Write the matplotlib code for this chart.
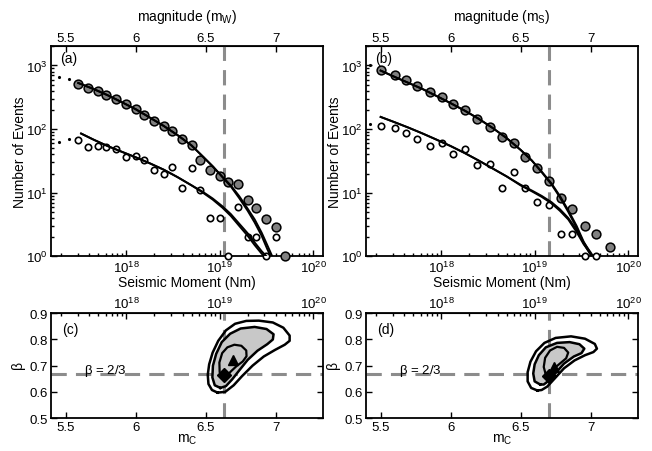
import numpy as np
import matplotlib
matplotlib.use("Agg")
import matplotlib.pyplot as plt
from matplotlib.ticker import FixedLocator, NullFormatter

plt.rcParams['font.family'] = ['Liberation Sans', 'DejaVu Sans']
plt.rcParams['font.size'] = 10
plt.rcParams['xtick.labelsize'] = 9.5
plt.rcParams['ytick.labelsize'] = 9.5
plt.rcParams['mathtext.fontset'] = 'custom'
plt.rcParams['mathtext.rm'] = 'Liberation Sans'
plt.rcParams['mathtext.it'] = 'Liberation Sans:italic'
plt.rcParams['mathtext.bf'] = 'Liberation Sans:bold'
plt.rcParams['mathtext.default'] = 'regular'

# ---------------- data ----------------
# panel (a): magnitude bins (mW) and counts
mag_a = [5.59, 5.66, 5.73, 5.79, 5.86, 5.93, 6.00, 6.06, 6.13, 6.20, 6.26, 6.33,
         6.40, 6.46, 6.53, 6.60, 6.66, 6.73, 6.80, 6.86, 6.93, 7.00, 7.07]
filled_a = [518, 448, 397, 340, 294, 246, 205, 167, 136, 113, 94, 69,
            56, 33, 23, 18.6, 14.7, 13.8, 7.8, 5.8, 3.9, 2.9, 1]
open_a = [67, 53, 54, 52, 49, 37, 38, 33, 23, 20, 25, 12,
          24, 11, 4, 4, 1, 6, 2, 2, 1, 2]
dots_a_m = [5.455, 5.527]
dots_a_up = [666, 604]
dots_a_lo = [63, 70]

# fitted curves (a)
fit_a_m = [5.59, 5.70, 5.80, 5.90, 6.00, 6.10, 6.20, 6.30, 6.40, 6.48, 6.55, 6.62,
           6.68, 6.74, 6.80, 6.85, 6.90, 6.94, 6.98]
fit_a_up1 = [530, 425, 340, 265, 205, 152, 112, 80, 55, 37, 26, 17.5,
             12.5, 8.2, 5.2, 3.4, 2.1, 1.3, 0.85]
fit_a_up2 = [530, 425, 340, 265, 205, 152, 112, 80, 55, 37, 26, 17.8,
             13.0, 8.8, 5.6, 3.8, 2.35, 1.5, 0.95]
fit_a_lo_m = [5.61, 5.70, 5.80, 5.90, 6.00, 6.10, 6.20, 6.30, 6.40, 6.48, 6.55, 6.62,
              6.68, 6.74, 6.80, 6.85, 6.90, 6.94, 6.97]
fit_a_lo1 = [85, 68, 54, 44, 36, 29, 23, 17.5, 13, 10, 7.8, 5.8,
             4.3, 3.0, 2.1, 1.5, 1.1, 0.9, 0.75]
fit_a_lo2 = [85, 68, 54, 44, 36, 29, 23, 17.5, 13, 10.3, 8.1, 6.1,
             4.6, 3.25, 2.3, 1.65, 1.2, 0.97, 0.8]

# panel (b): magnitude bins (mS) and counts
mag_b = [5.50, 5.60, 5.68, 5.76, 5.85, 5.94, 6.02, 6.10, 6.19, 6.28, 6.37, 6.45,
         6.53, 6.62, 6.70, 6.79, 6.87, 6.96, 7.04, 7.14]
filled_b = [857, 706, 581, 473, 380, 321, 248, 199, 144, 108, 76, 60,
            37, 24, 15, 8.1, 5.6, 3.0, 2.2, 1.4]
open_b = [111, 104, 86, 71, 55, 61, 41, 48, 27, 28, 12, 21,
          12, 7.1, 6.3, 2.2, 2.2, 1, 1]
dots_b_m = [5.425]
dots_b_up = [1000]
dots_b_lo = [118]

fit_b_m = [5.50, 5.60, 5.70, 5.80, 5.90, 6.00, 6.10, 6.20, 6.30, 6.40, 6.50, 6.58,
           6.65, 6.72, 6.78, 6.84, 6.90, 6.95, 7.00, 7.03]
fit_b_up1 = [830, 660, 530, 425, 330, 255, 195, 145, 104, 72, 47, 32,
             21, 13.5, 8.5, 5.0, 2.8, 1.6, 1.05, 0.85]
fit_b_up2 = [830, 660, 530, 425, 330, 255, 195, 145, 104, 72, 47, 32,
             21.5, 14.0, 8.9, 5.3, 3.0, 1.7, 1.1, 0.9]
fit_b_lo1 = [155, 128, 105, 85, 68, 54, 42, 32, 24, 18, 13, 10.5,
             8.6, 6.8, 5.2, 3.8, 2.4, 1.55, 1.1, 0.85]
fit_b_lo2 = [155, 128, 105, 85, 68, 54, 42, 32, 24, 18, 13.3, 10.8,
             8.9, 7.1, 5.5, 4.0, 2.6, 1.65, 1.15, 0.9]

corner_a = 6.63
corner_b = 6.70
beta_ref = 2 / 3

# panel (c) likelihood contours (m_c, beta)
c_outer_m = [6.585, 6.545, 6.52, 6.515, 6.525, 6.55, 6.59, 6.645, 6.71, 6.79, 6.88, 6.98,
             7.055, 7.10, 7.10, 7.065, 6.995, 6.915, 6.835, 6.76, 6.70, 6.64, 6.585]
c_outer_b = [0.597, 0.607, 0.63, 0.665, 0.705, 0.75, 0.795, 0.835, 0.86, 0.871, 0.872, 0.865,
             0.845, 0.815, 0.795, 0.78, 0.76, 0.735, 0.70, 0.66, 0.625, 0.60, 0.597]
c_mid_m = [6.605, 6.565, 6.548, 6.552, 6.575, 6.615, 6.675, 6.75, 6.85, 6.935, 6.985, 6.98,
           6.94, 6.87, 6.80, 6.74, 6.69, 6.645, 6.605]
c_mid_b = [0.615, 0.625, 0.655, 0.70, 0.745, 0.79, 0.822, 0.842, 0.848, 0.84, 0.82, 0.80,
           0.782, 0.757, 0.722, 0.682, 0.648, 0.622, 0.615]
c_in_m = [6.625, 6.600, 6.598, 6.618, 6.655, 6.705, 6.755, 6.790, 6.792, 6.765, 6.72, 6.68,
          6.65, 6.625]
c_in_b = [0.652, 0.675, 0.712, 0.748, 0.770, 0.780, 0.776, 0.758, 0.736, 0.716, 0.698, 0.678,
          0.660, 0.652]
c_tri = (6.695, 0.72)
c_dia = (6.628, 0.663)

# panel (d)
d_outer_m = [6.62, 6.575, 6.55, 6.55, 6.57, 6.61, 6.67, 6.75, 6.86, 6.96, 7.03, 7.045,
             7.02, 6.96, 6.885, 6.81, 6.745, 6.69, 6.65, 6.62]
d_outer_b = [0.605, 0.615, 0.64, 0.675, 0.715, 0.755, 0.787, 0.806, 0.812, 0.803, 0.783, 0.765,
             0.752, 0.74, 0.72, 0.69, 0.652, 0.62, 0.607, 0.605]
d_mid_m = [6.64, 6.60, 6.59, 6.60, 6.63, 6.68, 6.76, 6.85, 6.92, 6.955, 6.935, 6.88,
           6.81, 6.75, 6.70, 6.665, 6.64]
d_mid_b = [0.628, 0.64, 0.67, 0.705, 0.74, 0.77, 0.787, 0.79, 0.782, 0.765, 0.748, 0.735,
           0.708, 0.672, 0.642, 0.628, 0.628]
d_in_m = [6.68, 6.665, 6.675, 6.71, 6.76, 6.81, 6.84, 6.825, 6.785, 6.74, 6.70, 6.68]
d_in_b = [0.665, 0.695, 0.73, 0.758, 0.772, 0.768, 0.75, 0.728, 0.71, 0.69, 0.668, 0.665]
d_tri = (6.735, 0.695)
d_dia = (6.700, 0.662)

mag_ticks = [5.5, 6, 6.5, 7]
moment_exps = [18, 19, 20]
beta_ticks = [0.5, 0.6, 0.7, 0.8, 0.9]
XLIM = (5.395, 7.336)

# ---------------- helpers ----------------
def m_of_M(M):
    return (2.0 / 3.0) * (np.log10(M) - 9.1)

major_M = [m_of_M(10.0 ** e) for e in moment_exps]
major_M_lab = [r'$10^{%d}$' % e for e in moment_exps]
minor_M = []
for e in range(17, 21):
    for k in range(2, 10):
        v = m_of_M(k * 10.0 ** e)
        if XLIM[0] < v < XLIM[1]:
            minor_M.append(v)

GREY_DASH = '#8c8c8c'
FILL_GREY = '#c8c8c8'
MARK_GREY = '#808080'

fig = plt.figure(figsize=(6.52, 4.52), dpi=100)

def style_ax(ax):
    for s in ax.spines.values():
        s.set_linewidth(1.3)
    ax.tick_params(which='both', direction='in', width=1.0, pad=2.5)
    ax.tick_params(which='major', length=4)
    ax.tick_params(which='minor', length=2)


def top_panel(rect, mags, filled, opn, fm, up1, up2, flo_m, lo1, lo2, dm, dup, dlo,
              corner, letter, magname):
    ax = fig.add_axes(rect)
    ax.set_yscale('log')
    ax.set_xlim(*XLIM)
    ax.set_ylim(1, 2000)
    ax.axvline(corner, color=GREY_DASH, lw=2.2, dashes=(5, 3), zorder=1)
    ax.plot(dm, dup, ls='none', marker='.', ms=2.5, color='black')
    ax.plot(dm, dlo, ls='none', marker='.', ms=2.5, color='black')
    ax.plot(mags[:len(filled)], filled, ls='none', marker='o', ms=6.3, mfc=MARK_GREY,
            mec='black', mew=1.1, zorder=3, clip_on=False)
    ax.plot(mags[:len(opn)], opn, ls='none', marker='o', ms=4.6, mfc='white',
            mec='black', mew=1.2, zorder=3, clip_on=False)
    for ys in (up1, up2):
        ax.plot(fm, ys, color='black', lw=1.4, zorder=4)
    for ys in (lo1, lo2):
        ax.plot(flo_m, ys, color='black', lw=1.4, zorder=4)
    ax.set_xticks(major_M)
    ax.set_xticklabels(major_M_lab)
    ax.xaxis.set_minor_locator(FixedLocator(minor_M))
    ax.xaxis.set_minor_formatter(NullFormatter())
    ax.set_yticks([1, 10, 100, 1000])
    ax.set_yticklabels([r'$10^{0}$', r'$10^{1}$', r'$10^{2}$', r'$10^{3}$'])
    style_ax(ax)
    sec = ax.secondary_xaxis('top')
    sec.set_xticks(mag_ticks)
    sec.set_xticklabels(['5.5', '6', '6.5', '7'])
    sec.tick_params(direction='in', length=4, width=1.0, pad=1.5)
    sec.set_xlabel('magnitude (m$_{%s}$)' % magname, labelpad=9)
    ax.set_xlabel('Seismic Moment (Nm)', labelpad=0)
    ax.set_ylabel('Number of Events', labelpad=-1)
    ax.text(0.035, 0.945, letter, transform=ax.transAxes, ha='left', va='center')
    return ax


def bottom_panel(rect, cont, tri, dia, corner, letter):
    ax = fig.add_axes(rect)
    ax.set_xlim(*XLIM)
    ax.set_ylim(0.5, 0.9)
    ax.axvline(corner, color=GREY_DASH, lw=2.2, dashes=(5, 3), zorder=1)
    ax.axhline(beta_ref, color=GREY_DASH, lw=2.2, dashes=(5, 3), zorder=1)
    (om, ob), (mm, mb), (im, ib) = cont
    ax.fill(mm, mb, color=FILL_GREY, zorder=2, lw=0)
    ax.plot(om, ob, color='black', lw=1.8, zorder=3)
    ax.plot(mm, mb, color='black', lw=1.8, zorder=3)
    ax.plot(im, ib, color='black', lw=1.6, zorder=3)
    ax.plot([tri[0]], [tri[1]], marker='^', ms=7, color='black', ls='none', zorder=4)
    ax.plot([dia[0]], [dia[1]], marker='D', ms=7.5, color='black', ls='none', zorder=4)
    ax.text(5.785, 0.683, r'$\beta$ = 2/3', ha='center', va='center', fontsize=9.5)
    ax.set_xticks(mag_ticks)
    ax.set_xticklabels(['5.5', '6', '6.5', '7'])
    ax.set_yticks(beta_ticks)
    ax.set_yticklabels(['0.5', '0.6', '0.7', '0.8', '0.9'])
    style_ax(ax)
    ax.tick_params(axis='y', which='both', right=True)
    sec = ax.secondary_xaxis('top')
    sec.set_xticks(major_M)
    sec.set_xticklabels(major_M_lab)
    sec.xaxis.set_minor_locator(FixedLocator(minor_M))
    sec.xaxis.set_minor_formatter(NullFormatter())
    sec.tick_params(which='both', direction='in', width=1.0, pad=1.5)
    sec.tick_params(which='major', length=4)
    sec.tick_params(which='minor', length=2)
    ax.set_xlabel('m$_C$', labelpad=-1)
    ax.set_ylabel(r'$\beta$', labelpad=1)
    ax.text(0.04, 0.85, letter, transform=ax.transAxes, ha='left', va='center')
    return ax


top_panel([0.0782, 0.4308, 0.4167, 0.4646], mag_a, filled_a, open_a,
          fit_a_m, fit_a_up1, fit_a_up2, fit_a_lo_m, fit_a_lo1, fit_a_lo2,
          dots_a_m, dots_a_up, dots_a_lo, corner_a, '(a)', 'W')
top_panel([0.5613, 0.4308, 0.4167, 0.4646], mag_b, filled_b, open_b,
          fit_b_m, fit_b_up1, fit_b_up2, fit_b_m, fit_b_lo1, fit_b_lo2,
          dots_b_m, dots_b_up, dots_b_lo, corner_b, '(b)', 'S')

bottom_panel([0.0782, 0.073, 0.4167, 0.2316],
             [(c_outer_m, c_outer_b), (c_mid_m, c_mid_b), (c_in_m, c_in_b)],
             c_tri, c_dia, corner_a, '(c)')
bottom_panel([0.5613, 0.073, 0.4167, 0.2316],
             [(d_outer_m, d_outer_b), (d_mid_m, d_mid_b), (d_in_m, d_in_b)],
             d_tri, d_dia, corner_b, '(d)')

fig.savefig('out.png', dpi=100)
